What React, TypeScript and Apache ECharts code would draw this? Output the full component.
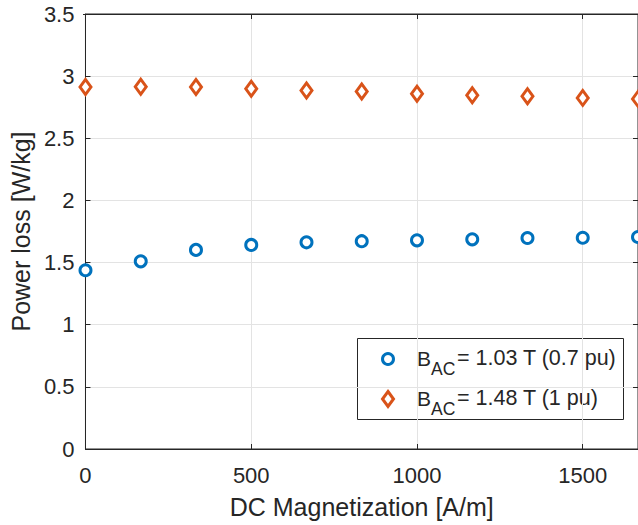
import React, { useEffect, useRef } from "react";
import * as echarts from "echarts";

const xValues = [0, 166.7, 333.3, 500, 666.7, 833.3, 1000, 1166.7, 1333.3, 1500, 1666.7];
const lossLow = [1.438, 1.51, 1.602, 1.642, 1.663, 1.672, 1.679, 1.687, 1.698, 1.7, 1.706];
const lossHigh = [2.912, 2.914, 2.913, 2.899, 2.885, 2.877, 2.858, 2.846, 2.838, 2.825, 2.817];
const seriesNames = ["= 1.03 T (0.7 pu)", "= 1.48 T (1 pu)"];
const xTitle = "DC Magnetization [A/m]";
const yTitle = "Power loss [W/kg]";

const BLUE = "#0072BD";
const ORANGE = "#D95319";
const INK = "#262626";
const GRID = "#e3e3e3";
const FONT = "Liberation Sans, Arial, Helvetica, sans-serif";

export default function App() {
  const ref = useRef<HTMLDivElement>(null);
  useEffect(() => {
    if (!ref.current) return;
    const chart = echarts.init(ref.current, undefined, { renderer: "svg" });
    const gridL = 83, gridT = 14, gridW = 555, gridH = 435;
    const axisCommon = {
      axisLine: { show: true, onZero: false, lineStyle: { color: INK, width: 1 } },
      axisTick: { show: true, inside: true, length: 5, lineStyle: { color: INK } },
    };
    const legX = 357, legY = 338;
    const legendText = (y: number, txt: string) => [
      { type: "text", x: 417, y, style: { text: "B", font: `21px ${FONT}`, fill: INK, verticalAlign: "middle" } },
      { type: "text", x: 431, y: y + 11, style: { text: "AC", font: `17.5px ${FONT}`, fill: INK, verticalAlign: "middle" } },
      { type: "text", x: 457, y, style: { text: txt, font: `21.5px ${FONT}`, fill: INK, verticalAlign: "middle" } },
    ];
    const plain = (v: number) => String(v);
    chart.setOption({
      animation: false,
      backgroundColor: "#ffffff",
      grid: {
        left: gridL,
        top: gridT,
        width: gridW,
        height: gridH,
        containLabel: false,
        show: true,
        borderColor: INK,
        borderWidth: 1,
        backgroundColor: "transparent",
      },
      xAxis: [
        {
          type: "value",
          min: 0,
          max: 1666.7,
          interval: 500,
          position: "bottom",
          ...axisCommon,
          axisLabel: { show: true, margin: 15, fontSize: 22, color: INK, fontFamily: FONT, showMaxLabel: false, formatter: plain },
          splitLine: { show: true, lineStyle: { color: GRID, width: 1 } },
          name: xTitle,
          nameLocation: "middle",
          nameGap: 45,
          nameTextStyle: { fontSize: 25, color: INK, fontFamily: FONT },
        },
        {
          type: "value",
          min: 0,
          max: 1666.7,
          interval: 500,
          position: "top",
          ...axisCommon,
          axisLabel: { show: false },
          splitLine: { show: false },
        },
      ],
      yAxis: [
        {
          type: "value",
          min: 0,
          max: 3.5,
          interval: 0.5,
          position: "left",
          ...axisCommon,
          axisLabel: { show: true, margin: 11, fontSize: 22, color: INK, fontFamily: FONT, formatter: plain },
          splitLine: { show: true, lineStyle: { color: GRID, width: 1 } },
          name: yTitle,
          nameLocation: "middle",
          nameGap: 48,
          nameTextStyle: { fontSize: 25, color: INK, fontFamily: FONT },
        },
        {
          type: "value",
          min: 0,
          max: 3.5,
          interval: 0.5,
          position: "right",
          ...axisCommon,
          axisLabel: { show: false },
          splitLine: { show: false },
        },
      ],
      series: [
        {
          name: seriesNames[0],
          type: "scatter",
          data: xValues.map((x, i) => [x, lossLow[i]]),
          symbol: "circle",
          symbolSize: 11,
          itemStyle: { color: "#ffffff", borderColor: BLUE, borderWidth: 3, opacity: 1 },
          clip: false,
          z: 5,
        },
        {
          name: seriesNames[1],
          type: "scatter",
          data: xValues.map((x, i) => [x, lossHigh[i]]),
          symbol: "diamond",
          symbolSize: [11, 15],
          itemStyle: { color: "#ffffff", borderColor: ORANGE, borderWidth: 3, opacity: 1 },
          clip: false,
          z: 5,
        },
      ],
      graphic: [
        {
          type: "line",
          z: 50,
          shape: { x1: gridL, y1: gridT + 0.5, x2: gridL + gridW, y2: gridT + 0.5 },
          style: { stroke: INK, lineWidth: 1 },
        },
        {
          type: "group",
          z: 100,
          children: [
            {
              type: "rect",
              shape: { x: legX + 0.5, y: legY + 0.5, width: 266, height: 81 },
              style: { fill: "#ffffff", stroke: INK, lineWidth: 1 },
            },
            {
              type: "circle",
              shape: { cx: 388, cy: 359, r: 5.5 },
              style: { fill: "#ffffff", stroke: BLUE, lineWidth: 3 },
            },
            {
              type: "polygon",
              shape: { points: [[388, 391.5], [393.5, 399], [388, 406.5], [382.5, 399]] },
              style: { fill: "#ffffff", stroke: ORANGE, lineWidth: 3 },
            },
            ...legendText(358, seriesNames[0]),
            ...legendText(398, seriesNames[1]),
          ],
        },
      ],
    });
    return () => chart.dispose();
  }, []);
  return (
    <div
      ref={ref}
      style={{ position: "absolute", left: 0, top: 0, width: 638, height: 525, background: "#fff" }}
    />
  );
}
